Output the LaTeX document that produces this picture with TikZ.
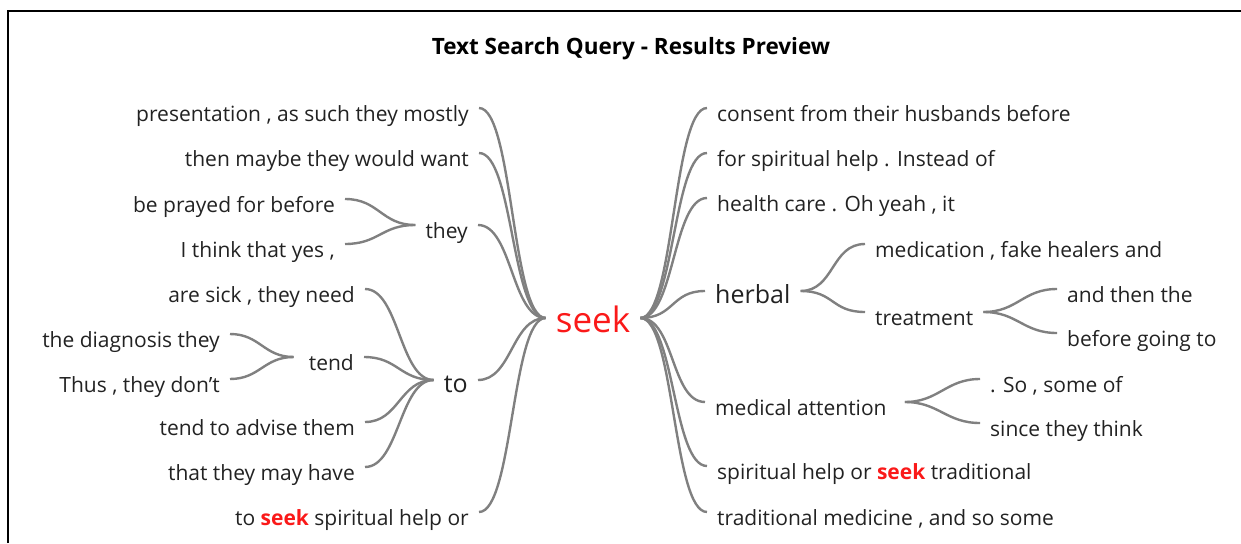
\documentclass[tikz,border=0pt]{standalone}
\usepackage{fontspec}
\setmainfont{Open Sans}

\definecolor{wordgray}{RGB}{34,34,34}
\definecolor{linkgray}{RGB}{128,128,128}
\definecolor{hitred}{RGB}{250,25,25}

\newcommand{\hit}[1]{\textcolor{hitred}{\bfseries #1}}

\begin{document}
\begin{tikzpicture}[%
      x=1pt, y=-1pt,
      word/.style={inner xsep=10pt, inner ysep=0pt, text=wordgray,
        font=\fontsize{21}{24}\selectfont, text height=26pt, text depth=0pt},
      stem/.style={word, font=\fontsize{25}{28}\selectfont, text height=25pt},
      hub/.style={word, text=hitred, font=\fontsize{35}{38}\selectfont, text height=28pt},
      link/.style={draw=linkgray, line width=2.4pt},
      ]
      \useasboundingbox (0,0) rectangle (1241,543);
      \draw [line width=1.8pt] (8,543) -- (8,11) -- (1241,11);
      \node [anchor=base, font=\bfseries\fontsize{22.5}{26}\selectfont] (title) at (631,55) {Text Search Query - Results Preview};

      \node [hub] (seek) at (593,318) {seek};

      % words before the hit
      \node [word, anchor=east] (l1) at (479,108) {presentation , as such they mostly};
      \node [word, anchor=east] (l2) at (479,153) {then maybe they would want};
      \node [word, anchor=east] (they) at (478,225) {they};
      \node [word, anchor=east] (l3) at (345,199) {be prayed for before};
      \node [word, anchor=east] (l4) at (345,244) {I think that yes ,};
      \node [stem, anchor=east] (to) at (478,380) {to};
      \node [word, anchor=east] (l5) at (365,289) {are sick , they need};
      \node [word, anchor=east] (tend) at (364,357) {tend};
      \node [word, anchor=east] (l6) at (230,334) {the diagnosis they};
      \node [word, anchor=east] (l7) at (230,379) {Thus , they don't};
      \node [word, anchor=east] (l8) at (365,422) {tend to advise them};
      \node [word, anchor=east] (l9) at (365,467) {that they may have};
      \node [word, anchor=east] (l10) at (479,512) {to \hit{seek} spiritual help or};

      % words after the hit
      \node [word, anchor=west] (r1) at (707,108) {consent from their husbands before};
      \node [word, anchor=west] (r2) at (707,153) {for spiritual help . Instead of};
      \node [word, anchor=west] (r3) at (707,198) {health care . Oh yeah , it};
      \node [stem, anchor=west] (herbal) at (705,291) {herbal};
      \node [word, anchor=west] (r4) at (865,244) {medication , fake healers and};
      \node [word, anchor=west] (treat) at (865,312) {treatment};
      \node [word, anchor=west] (r5) at (1057,289) {and then the};
      \node [word, anchor=west] (r6) at (1057,333) {before going to};
      \node [word, anchor=west] (medic) at (705,402) {medical attention};
      \node [word, anchor=west] (r7) at (980,379) {. So , some of};
      \node [word, anchor=west] (r8) at (980,423) {since they think};
      \node [word, anchor=west] (r9) at (707,466) {spiritual help or \hit{seek} traditional};
      \node [word, anchor=west] (r10) at (707,512) {traditional medicine , and so some};

      \foreach \n in {l1,l2,they,to,l10}
        \draw [link] (\n.east) .. controls +(34,0) and +(-34,0) .. (seek.west);
      \foreach \n in {l3,l4}
        \draw [link] (\n.east) .. controls +(34,0) and +(-34,0) .. (they.west);
      \foreach \n in {l5,tend,l8,l9}
        \draw [link] (\n.east) .. controls +(34,0) and +(-34,0) .. (to.west);
      \foreach \n in {l6,l7}
        \draw [link] (\n.east) .. controls +(30,0) and +(-30,0) .. ([xshift=-5pt]tend.west);

      \foreach \n in {r1,r2,r3,herbal,medic,r9,r10}
        \draw [link] (seek.east) .. controls +(34,0) and +(-34,0) .. (\n.west);
      \foreach \n in {r4,treat}
        \draw [link] (herbal.east) .. controls +(34,0) and +(-34,0) .. (\n.west);
      \foreach \n in {r5,r6}
        \draw [link] (treat.east) .. controls +(34,0) and +(-34,0) .. (\n.west);
      \foreach \n in {r7,r8}
        \draw [link] ([xshift=8pt]medic.east) .. controls +(34,0) and +(-34,0) .. (\n.west);
      \end{tikzpicture}
\end{document}
